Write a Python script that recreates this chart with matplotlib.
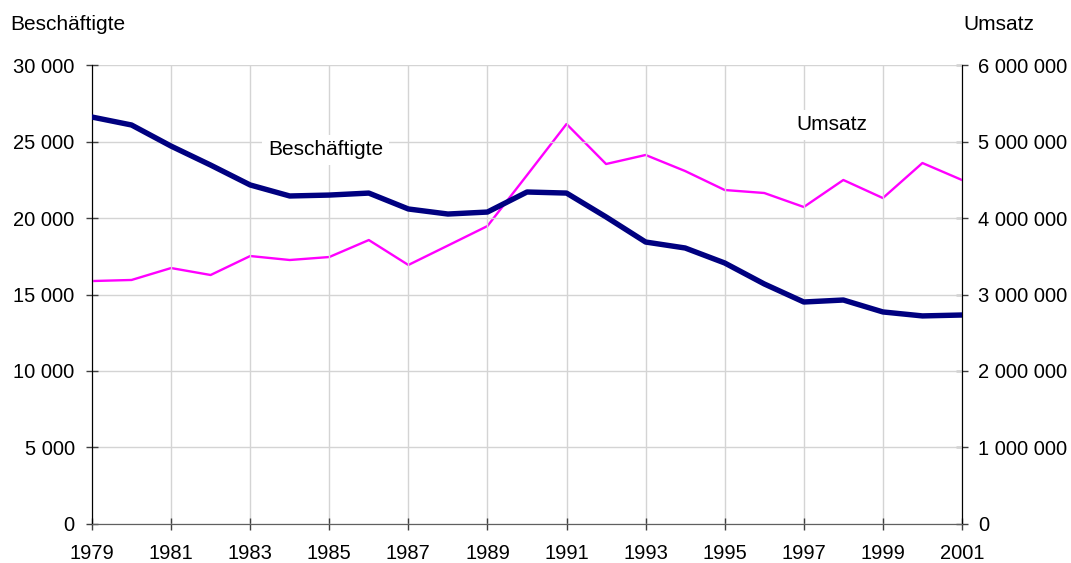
import matplotlib.pyplot as plt
from matplotlib.ticker import FuncFormatter

plt.rcParams['font.family'] = ['Liberation Sans', 'DejaVu Sans']

years = list(range(1979, 2002))
beschaeftigte = [26600, 26080, 24700, 23460, 22160, 21440, 21500, 21630, 20590,
                 20260, 20390, 21700, 21630, 20070, 18430, 18040, 17060, 15690,
                 14510, 14640, 13860, 13600, 13660]
umsatz = [3176000, 3190000, 3346000, 3255000, 3503000, 3451000, 3490000, 3712000,
          3386000, 3640000, 3895000, 4560000, 5229000, 4706000, 4824000, 4614000,
          4366000, 4327000, 4144000, 4497000, 4261000, 4719000, 4497000]
xticks = list(range(1979, 2002, 2))


def fmt(v, pos):
    return '{:,}'.format(int(v)).replace(',', ' ')


fig = plt.figure(figsize=(10.71, 5.63), dpi=100)
ax = fig.add_axes([0.0859, 0.0693, 0.8123, 0.8152])
ax2 = ax.twinx()

ax.set_xlim(1979, 2001)
ax.set_ylim(0, 30000)
ax2.set_ylim(0, 6000000)
ax.set_xticks(xticks)
ax.set_yticks(range(0, 30001, 5000))
ax2.set_yticks(range(0, 6000001, 1000000))
ax.yaxis.set_major_formatter(FuncFormatter(fmt))
ax2.yaxis.set_major_formatter(FuncFormatter(fmt))

ax.grid(True, color='#d4d4d4', linewidth=1)
ax.set_axisbelow(True)

ax2.plot(years, umsatz, color='#ff00ff', linewidth=1.7, zorder=2)
ax.set_zorder(ax2.get_zorder() + 1)
ax.patch.set_visible(False)
ax.plot(years, beschaeftigte, color='#000080', linewidth=3.9, zorder=3)

for a in (ax, ax2):
    a.spines['top'].set_visible(False)
    a.spines['bottom'].set_color('#606060')
    a.spines['left'].set_color('black')
    a.spines['right'].set_color('black')
    a.tick_params(labelsize=14.5, direction='inout', length=9, width=1, color='#404040')
ax.tick_params(axis='x', pad=10)
ax.tick_params(axis='y', pad=8)
ax2.tick_params(axis='y', pad=7)

ax.text(1983.45, 24450, 'Beschäftigte', fontsize=15, va='center', ha='left',
        bbox=dict(facecolor='white', edgecolor='none', pad=4), zorder=5)
ax.text(1996.8, 26080, 'Umsatz', fontsize=15, va='center', ha='left',
        bbox=dict(facecolor='white', edgecolor='none', pad=4), zorder=5)

fig.text(10 / 1071, 1 - 25 / 563, 'Beschäftigte', fontsize=15, va='center', ha='left')
fig.text(963 / 1071, 1 - 25 / 563, 'Umsatz', fontsize=15, va='center', ha='left')

fig.savefig('out.png', dpi=100, facecolor='white')
